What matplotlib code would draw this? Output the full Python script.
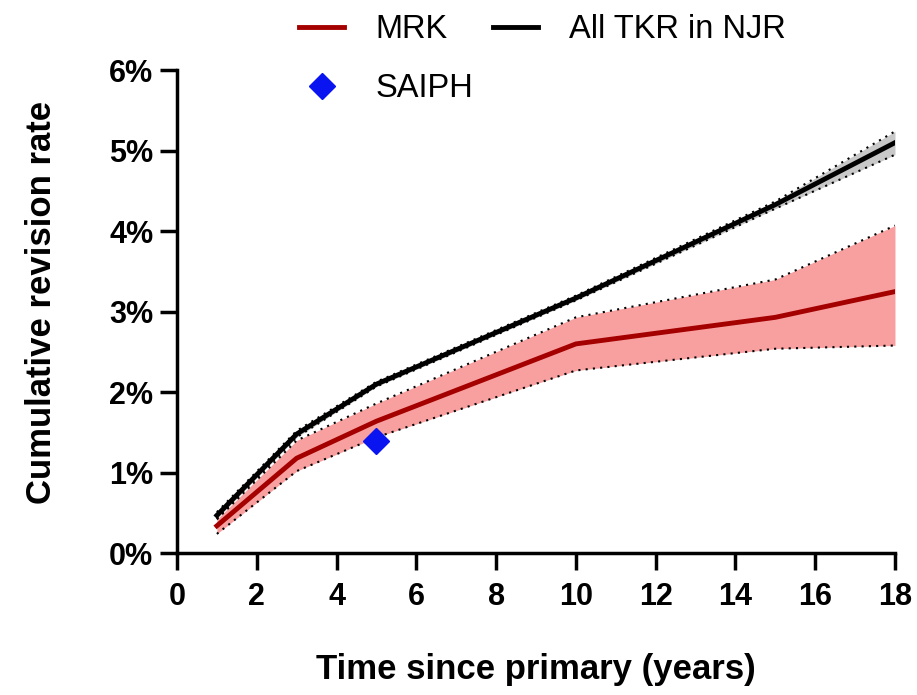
import numpy as np
import matplotlib.pyplot as plt

plt.rcParams['font.family'] = ['Liberation Sans', 'DejaVu Sans']

# years since primary
years = [1, 3, 5, 10, 15, 18]

# All TKR in NJR (%)
njr = [0.47, 1.48, 2.10, 3.17, 4.33, 5.10]
njr_lo = [0.43, 1.44, 2.07, 3.14, 4.28, 4.95]
njr_hi = [0.51, 1.52, 2.13, 3.20, 4.37, 5.24]

# MRK (%)
mrk = [0.34, 1.18, 1.64, 2.60, 2.93, 3.25]
mrk_lo = [0.24, 1.02, 1.44, 2.27, 2.54, 2.58]
mrk_hi = [0.42, 1.40, 1.86, 2.93, 3.40, 4.07]

# SAIPH point
saiph_x = [5]
saiph_y = [1.40]

fig = plt.figure(figsize=(9.17, 6.95), dpi=100)
ax = fig.add_axes([0.193, 0.204, 0.783, 0.695])

ax.fill_between(years, njr_lo, njr_hi, color='#c8c8c8', lw=0, zorder=1)
ax.plot(years, njr_lo, color='black', ls=(0, (1, 2.5)), lw=1.5, zorder=2)
ax.plot(years, njr_hi, color='black', ls=(0, (1, 2.5)), lw=1.5, zorder=2)
l_njr, = ax.plot(years, njr, color='black', lw=3.5, zorder=3, label='All TKR in NJR')

ax.fill_between(years, mrk_lo, mrk_hi, color='#f8a0a0', lw=0, zorder=1)
ax.plot(years, mrk_lo, color='black', ls=(0, (1, 2.5)), lw=1.5, zorder=2)
ax.plot(years, mrk_hi, color='black', ls=(0, (1, 2.5)), lw=1.5, zorder=2)
l_mrk, = ax.plot(years, mrk, color='#a50000', lw=3.5, zorder=3, label='MRK')

l_saiph, = ax.plot(saiph_x, saiph_y, 'D', color='#0a14f0', ms=13, ls='none', zorder=4, label='SAIPH')

ax.set_xlim(0, 18)
ax.set_ylim(0, 6)
ax.set_xticks(range(0, 19, 2))
ax.set_yticks(range(0, 7))
ax.set_yticklabels([f'{i}%' for i in range(7)])

ax.spines['top'].set_visible(False)
ax.spines['right'].set_visible(False)
ax.spines['left'].set_linewidth(2.5)
ax.spines['bottom'].set_linewidth(2.5)
ax.tick_params(width=2.5, length=12, direction='out', labelsize=22)
ax.tick_params(axis='x', pad=9)
ax.tick_params(axis='y', pad=5)
for lab in ax.get_xticklabels() + ax.get_yticklabels():
    lab.set_fontweight('bold')

ax.set_xlabel('Time since primary (years)', fontsize=25, fontweight='bold', labelpad=29)
ax.set_ylabel('Cumulative revision rate', fontsize=25, fontweight='bold')
ax.yaxis.set_label_coords(-0.166, 0.52)

fig.legend(handles=[l_mrk, l_saiph, l_njr], ncol=2, frameon=False, fontsize=23.5,
           loc='upper left', bbox_to_anchor=(0.308, 1.003), borderpad=0,
           handlelength=1.4, handletextpad=0.95, columnspacing=0.6, labelspacing=0.85)

fig.savefig('out.png', dpi=100)
